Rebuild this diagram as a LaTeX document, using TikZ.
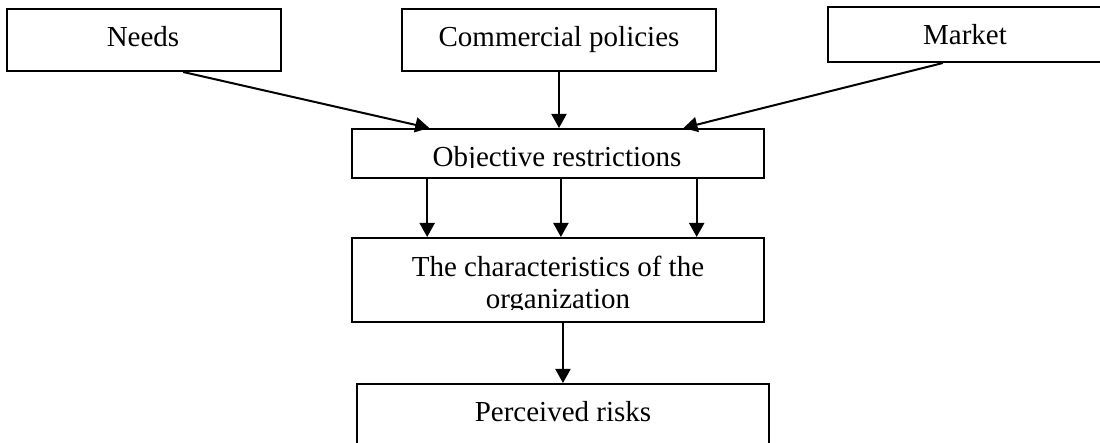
\documentclass[tikz,border=0pt]{standalone}
\usepackage{fontspec}
\setmainfont{Liberation Serif}
\usetikzlibrary{arrows.meta,calc}
\begin{document}
\begin{tikzpicture}[x=0.5pt,y=-0.5pt,
  box/.style={draw, line width=1pt, rectangle, inner sep=0pt},
  lbl/.style={anchor=base, inner sep=0pt, font=\fontsize{14.5}{16}\selectfont},
  arr/.style={line width=1pt, -{Triangle[length=7pt,width=7.5pt]}}]
\useasboundingbox (0,0) rectangle (1100,443);
\clip (0,0) rectangle (1100,443);
% boxes
\node[box, minimum width=137pt, minimum height=31pt] (needs) at (144,40) {};
\node[box, minimum width=157pt, minimum height=31pt] (comm) at (559,40) {};
\node[box, minimum width=141pt, minimum height=27.5pt] (market) at (969,34.5) {};
\node[box, minimum width=206pt, minimum height=24.5pt] (obj) at (558,153.5) {};
\node[box, minimum width=206pt, minimum height=42pt] (chars) at (558,280) {};
\node[box, minimum width=206pt, minimum height=38pt] (risks) at (563,422) {};
% texts
\node[lbl] (needs-t) at (143,47) {Needs};
\node[lbl] (comm-t) at (559,47) {Commercial policies};
\node[lbl] (market-t) at (965,45) {Market};
\begin{scope}
  \clip (352,129) rectangle (764,168);
  \node[lbl] (obj-t) at (557,167) {Objective restrictions};
\end{scope}
\begin{scope}
  \clip (352,238) rectangle (764,310);
  \node[lbl] (chars-t1) at (558,277) {The characteristics of the};
  \node[lbl] (chars-t2) at (558,309) {organization};
\end{scope}
\node[lbl] (risks-t) at (563,422) {Perceived risks};
% connectors
\draw[arr] ($(needs.south west)!0.642!(needs.south east)$) -- ($(obj.north west)!0.189!(obj.north east)$);
\draw[arr] (comm.south) -- (comm.south |- obj.north);
\draw[arr] ($(market.south west)!0.408!(market.south east)$) -- ($(obj.north west)!0.803!(obj.north east)$);
\foreach \f/\i in {0.184/1,0.507/2,0.835/3}{
  \path ($(obj.south west)!\f!(obj.south east)$) coordinate (d\i);
  \draw[arr] (d\i) -- (d\i |- chars.north);
}
\path ($(chars.south west)!0.512!(chars.south east)$) coordinate (e1);
\draw[arr] (e1) -- (e1 |- risks.north);
\end{tikzpicture}
\end{document}
